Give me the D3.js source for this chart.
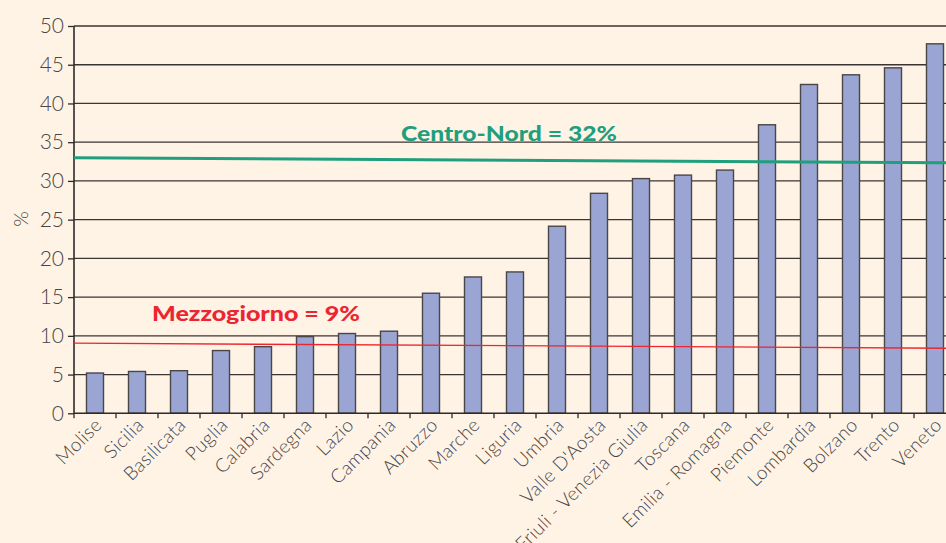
<!DOCTYPE html>
<html>
<head>
<meta charset="utf-8">
<script src="https://cdn.jsdelivr.net/npm/d3@7"></script>
<style>
  html, body { margin: 0; padding: 0; background: #fff3e6; }
  svg { display: block; }
</style>
</head>
<body>
<svg id="chart" width="946" height="543"></svg>
<script>
const regions = ["Molise","Sicilia","Basilicata","Puglia","Calabria","Sardegna","Lazio","Campania","Abruzzo","Marche","Liguria","Umbria","Valle D'Aosta","Friuli - Venezia Giulia","Toscana","Emilia - Romagna","Piemonte","Lombardia","Bolzano","Trento","Veneto"];
const values = [5.2,5.4,5.5,8.1,8.6,9.9,10.3,10.6,15.5,17.6,18.25,24.15,28.4,30.3,30.75,31.4,37.25,42.45,43.7,44.6,47.7];
const yTicks = [0,5,10,15,20,25,30,35,40,45,50];
const refLines = [
  {label: "Centro-Nord = 32%", start: 33.0, end: 32.35, color: "#1f9f7c", width: 3},
  {label: "Mezzogiorno = 9%", start: 9.05, end: 8.4, color: "#ec2630", width: 1.3}
];
const yLabel = "%";

(function () {
const svg = d3.select("#chart");
const W = 946, H = 543;
const mLeft = 74, mTop = 26, mBottom = 413.3;
const bandW = 42;
const x = d3.scaleBand().domain(regions).range([mLeft, mLeft + bandW * regions.length]).paddingInner(0.595).paddingOuter(0.2975);
const y = d3.scaleLinear().domain([0, 50]).range([mBottom, mTop]);
const xEnd = 946;

svg.append("rect").attr("width", W).attr("height", H).attr("fill", "#fff3e6");

// gridlines
svg.append("g").selectAll("line").data(yTicks.filter(d => d > 0)).join("line")
  .attr("x1", mLeft).attr("x2", xEnd)
  .attr("y1", d => y(d)).attr("y2", d => y(d))
  .attr("stroke", "#3a3434").attr("stroke-width", 1.3);

// bars
svg.append("g").selectAll("rect").data(regions).join("rect")
  .attr("x", d => x(d))
  .attr("y", (d, i) => y(values[i]))
  .attr("width", x.bandwidth())
  .attr("height", (d, i) => y(0) - y(values[i]))
  .attr("fill", "#9aa5d3")
  .attr("stroke", "#4a4646").attr("stroke-width", 1.4);

// y axis
const yAxis = d3.axisLeft(y).tickValues(yTicks).tickSize(6).tickPadding(4).tickFormat(d3.format("d"));
const gy = svg.append("g").attr("transform", `translate(${mLeft},0)`).call(yAxis);
gy.select(".domain").attr("stroke", "#2e2a2a").attr("stroke-width", 1.6).attr("d", `M0,${mTop}V${mBottom}`);
gy.selectAll(".tick line").attr("stroke", "#2e2a2a").attr("stroke-width", 1.3);
gy.selectAll(".tick text").attr("fill", "#4a4444").style("font-family", "Lato, sans-serif").style("font-weight", 300).style("font-size", "21px");

// x axis
const xTickPos = d3.range(regions.length + 1).map(i => mLeft + i * bandW);
const gx = svg.append("g");
gx.append("line").attr("x1", mLeft).attr("x2", xEnd).attr("y1", mBottom).attr("y2", mBottom)
  .attr("stroke", "#2e2a2a").attr("stroke-width", 1.6);
gx.selectAll("line.t").data(xTickPos).join("line").attr("class", "t")
  .attr("x1", d => d).attr("x2", d => d).attr("y1", mBottom).attr("y2", mBottom + 5)
  .attr("stroke", "#2e2a2a").attr("stroke-width", 1.3);
gx.selectAll("text").data(regions).join("text")
  .attr("transform", d => `translate(${x(d) + x.bandwidth() / 2 + 8},${mBottom + 13}) rotate(-45)`)
  .attr("text-anchor", "end")
  .attr("fill", "#4a4444")
  .style("font-family", "Lato, sans-serif").style("font-weight", 300).style("font-size", "19px")
  .style("letter-spacing", "0.3px")
  .text(d => d);

// reference lines
const xr = d3.scaleLinear().domain([0, 1]).range([mLeft, xEnd]);
refLines.forEach(r => {
  svg.append("line")
    .attr("x1", xr(0)).attr("x2", xr(1))
    .attr("y1", y(r.start)).attr("y2", y(r.end))
    .attr("stroke", r.color).attr("stroke-width", r.width);
});

// annotations
svg.append("text").attr("x", 401).attr("y", 140.5).attr("fill", refLines[0].color)
  .attr("textLength", 216).attr("lengthAdjust", "spacingAndGlyphs")
  .style("font-family", "Lato, sans-serif").style("font-weight", 900).style("font-size", "21px")
  .text(refLines[0].label);
svg.append("text").attr("x", 152).attr("y", 321).attr("fill", refLines[1].color)
  .attr("textLength", 208).attr("lengthAdjust", "spacingAndGlyphs")
  .style("font-family", "Lato, sans-serif").style("font-weight", 900).style("font-size", "21px")
  .text(refLines[1].label);

// y label
svg.append("text").attr("transform", "translate(28,219) rotate(-90)")
  .attr("text-anchor", "middle").attr("fill", "#4a4444")
  .style("font-family", "Lato, sans-serif").style("font-weight", 300).style("font-size", "20px")
  .text(yLabel);
})();
</script>
</body>
</html>
